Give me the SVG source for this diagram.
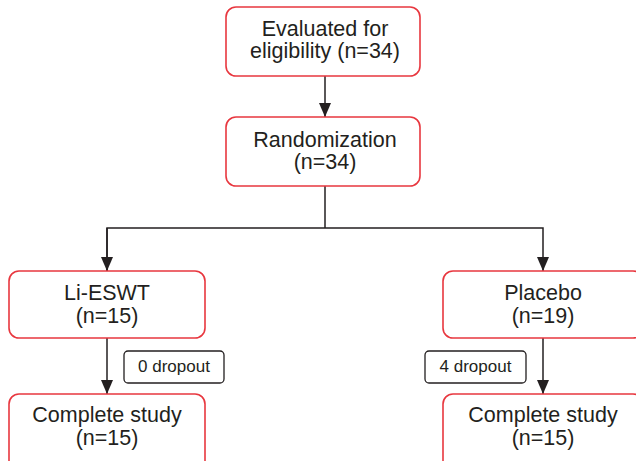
<svg xmlns="http://www.w3.org/2000/svg" width="636" height="461" viewBox="0 0 636 461">
<defs>
<marker id="ah" viewBox="0 0 14 12" refX="14" refY="6" markerWidth="14" markerHeight="12" markerUnits="userSpaceOnUse" orient="auto">
<path d="M0,0 L14,6 L0,12 Z" fill="#231f20"/>
</marker>
<style>
.box{fill:#fff;stroke:#e8373f;stroke-width:1.6}
.dbox{fill:#fff;stroke:#231f20;stroke-width:1.3}
.t{font-family:"Liberation Sans",Arial,sans-serif;font-size:21.5px;fill:#231f20;text-anchor:middle}
.d{font-family:"Liberation Sans",Arial,sans-serif;font-size:17px;fill:#231f20;text-anchor:middle}
.c{fill:none;stroke:#231f20;stroke-width:1.5}
</style>
</defs>
<g id="connectors">
<line class="c" x1="325" y1="76" x2="325" y2="117" marker-end="url(#ah)"/>
<polyline class="c" points="325,186 325,228"/>
<polyline class="c" points="107,271 107,228 543,228 543,271" marker-end="url(#ah)"/>
<path class="c" d="M107,228 L107,271" marker-end="url(#ah)"/>
<line class="c" x1="107" y1="338" x2="107" y2="394" marker-end="url(#ah)"/>
<line class="c" x1="543" y1="338" x2="543" y2="394" marker-end="url(#ah)"/>
</g>
<g id="evaluated">
<rect class="box" x="226" y="7" width="194" height="69" rx="10"/>
<text class="t" x="325" y="36">Evaluated for</text>
<text class="t" x="325" y="58">eligibility (n=34)</text>
</g>
<g id="randomization">
<rect class="box" x="226" y="117" width="194" height="69" rx="10"/>
<text class="t" x="325" y="147">Randomization</text>
<text class="t" x="325" y="169">(n=34)</text>
</g>
<g id="lieswt">
<rect class="box" x="9" y="271" width="196" height="67" rx="10"/>
<text class="t" x="107" y="300">Li-ESWT</text>
<text class="t" x="107" y="323">(n=15)</text>
</g>
<g id="placebo">
<rect class="box" x="443" y="271" width="200" height="67" rx="10"/>
<text class="t" x="543" y="300">Placebo</text>
<text class="t" x="543" y="323">(n=19)</text>
</g>
<g id="drop0">
<rect class="dbox" x="124" y="351" width="100" height="32" rx="4"/>
<text class="d" x="174" y="372">0 dropout</text>
</g>
<g id="drop4">
<rect class="dbox" x="425" y="351" width="101" height="32" rx="4"/>
<text class="d" x="475.5" y="372">4 dropout</text>
</g>
<g id="complete-left">
<rect class="box" x="9" y="394" width="196" height="80" rx="10"/>
<text class="t" x="107" y="422">Complete study</text>
<text class="t" x="107" y="445">(n=15)</text>
</g>
<g id="complete-right">
<rect class="box" x="443" y="394" width="200" height="80" rx="10"/>
<text class="t" x="543" y="422">Complete study</text>
<text class="t" x="543" y="445">(n=15)</text>
</g>
</svg>
